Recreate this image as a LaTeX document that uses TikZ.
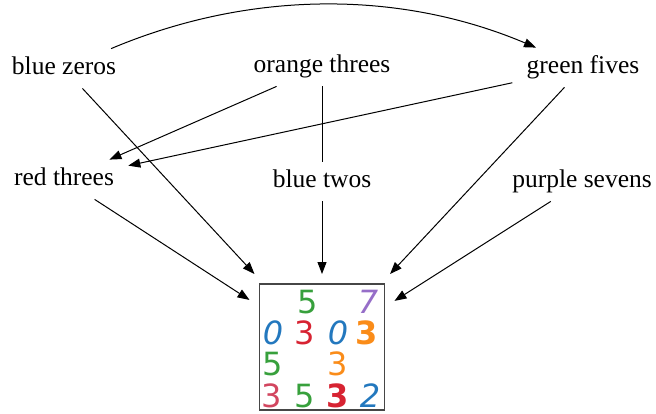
\documentclass[tikz,border=0pt]{standalone}
\usepackage{fontspec}
\setmainfont{Liberation Serif}
\newfontfamily\digitfont{DejaVu Sans}
\usetikzlibrary{arrows.meta}
\definecolor{dgreen}{RGB}{55,160,60}
\definecolor{dpurple}{RGB}{150,110,200}
\definecolor{dblue}{RGB}{35,120,190}
\definecolor{dred}{RGB}{215,35,50}
\definecolor{dorange}{RGB}{250,140,25}
\definecolor{dcrimson}{RGB}{210,70,95}
\definecolor{boxgray}{RGB}{70,70,70}
\begin{document}
\begin{tikzpicture}[x=0.5pt,y=-0.5pt,
  lbl/.style={anchor=base,inner xsep=7pt,inner ysep=4pt,text height=8.5pt,text depth=3pt,font=\fontsize{12.75pt}{15pt}\selectfont},
  edge/.style={line width=0.5pt,-{Triangle[length=6pt,width=4.5pt]}},
  plain/.style={line width=0.5pt},
  dig/.style={inner sep=0pt,font=\digitfont\fontsize{16pt}{18pt}\selectfont}]
\useasboundingbox (0,0) rectangle (656,413);
\node[lbl] (bz) at (64,74) {blue zeros};
\node[lbl] (ot) at (322,72) {orange threes};
\node[lbl] (gf) at (583,73) {green fives};
\node[lbl] (rt) at (64,185) {red threes};
\node[lbl] (bt) at (322,187) {blue twos};
\node[lbl] (ps) at (582,187) {purple sevens};
\node[draw=boxgray,line width=0.75pt,minimum width=62.5pt,minimum height=63pt,inner sep=0pt,outer sep=5pt] (img) at (322,347) {};
% digits
\node[dig,text=dgreen] (d1) at (308,302) {5};
\node[dig,text=dpurple] (d2) at (368,302) {\itshape 7};
\node[dig,text=dblue] (d3) at (273,333) {\itshape 0};
\node[dig,text=dred] (d4) at (305,333) {3};
\node[dig,text=dblue] (d5) at (338,333) {\itshape 0};
\node[dig,text=dorange] (d6) at (367,333) {\bfseries 3};
\node[dig,text=dgreen] (d7) at (273,364) {5};
\node[dig,text=dorange] (d8) at (338,364) {3};
\node[dig,text=dcrimson] (d9) at (272,396) {3};
\node[dig,text=dgreen] (d10) at (305,396) {5};
\node[dig,text=dred] (d11) at (338,396) {\bfseries 3};
\node[dig,text=dblue] (d12) at (370,396) {\itshape 2};
% edges
\draw[edge] (bz) .. controls (250,-10) and (400,-10) .. (gf);
\draw[edge] (bz) -- (img);
\draw[edge] (ot) -- (rt);
\draw[edge] (gf) -- (rt);
\draw[plain] (ot) -- (bt);
\draw[edge] (bt) -- (img);
\draw[edge] (gf) -- (img);
\draw[edge] (rt) -- (img);
\draw[edge] (ps) -- (img);
\end{tikzpicture}
\end{document}
